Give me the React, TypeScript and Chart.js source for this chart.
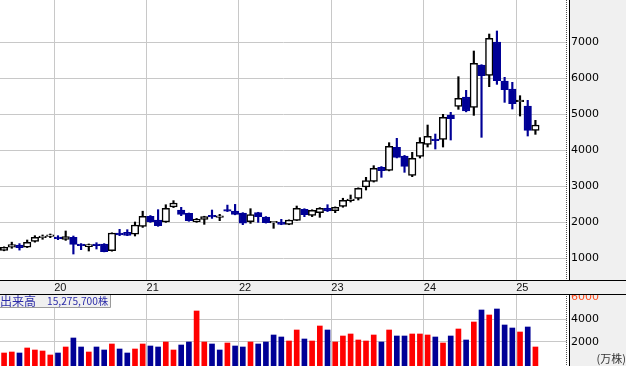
import React, { useEffect, useRef } from "react";
import { Chart, registerables } from "chart.js";

Chart.register(...registerables);

// ---------- data (monthly candles, Jun 2019 - Mar 2025) ----------
const MONTHS = [
  "2019-06", "2019-07", "2019-08", "2019-09", "2019-10", "2019-11", "2019-12",
  "2020-01", "2020-02", "2020-03", "2020-04", "2020-05", "2020-06", "2020-07", "2020-08", "2020-09", "2020-10", "2020-11", "2020-12",
  "2021-01", "2021-02", "2021-03", "2021-04", "2021-05", "2021-06", "2021-07", "2021-08", "2021-09", "2021-10", "2021-11", "2021-12",
  "2022-01", "2022-02", "2022-03", "2022-04", "2022-05", "2022-06", "2022-07", "2022-08", "2022-09", "2022-10", "2022-11", "2022-12",
  "2023-01", "2023-02", "2023-03", "2023-04", "2023-05", "2023-06", "2023-07", "2023-08", "2023-09", "2023-10", "2023-11", "2023-12",
  "2024-01", "2024-02", "2024-03", "2024-04", "2024-05", "2024-06", "2024-07", "2024-08", "2024-09", "2024-10", "2024-11", "2024-12",
  "2025-01", "2025-02", "2025-03",
];

const OPEN = [
  1214, 1300, 1360, 1300, 1463, 1565, 1600, 1583, 1518, 1574,
  1380, 1315, 1347, 1389, 1204, 1694, 1713, 1660, 1880, 2160,
  2056, 2000, 2420, 2333, 2241, 2009, 2074, 2150, 2125, 2310,
  2306, 2245, 2009, 2259, 2139, 1975, 2000, 1935, 2046, 2352,
  2185, 2259, 2380, 2315, 2436, 2595, 2658, 2972, 3130, 3519,
  3435, 4074, 3833, 3296, 3824, 4158, 4305, 4296, 4972, 5213,
  5472, 5185, 6361, 6074, 7000, 5917, 5694, 5340, 5222, 4546,
];
const HIGH = [
  1310, 1440, 1400, 1500, 1620, 1640, 1667, 1620, 1750, 1611,
  1400, 1390, 1425, 1400, 1700, 1796, 1787, 2000, 2300, 2180,
  2343, 2480, 2593, 2408, 2250, 2100, 2160, 2333, 2213, 2470,
  2490, 2260, 2370, 2270, 2150, 1990, 2075, 2060, 2444, 2370,
  2340, 2400, 2481, 2420, 2660, 2750, 2950, 3241, 3565, 3540,
  4204, 4324, 3850, 3935, 4343, 4694, 4444, 4991, 5046, 6037,
  5657, 6750, 6370, 7222, 7306, 6019, 5880, 5509, 5380, 4824,
];
const LOW = [
  1200, 1270, 1220, 1290, 1440, 1520, 1565, 1510, 1490, 1111,
  1231, 1194, 1250, 1170, 1190, 1620, 1620, 1611, 1850, 1990,
  1880, 1990, 2400, 2176, 2020, 1990, 1935, 2100, 2037, 2290,
  2200, 1926, 1963, 1990, 1970, 1825, 1925, 1925, 2040, 2148,
  2150, 2130, 2290, 2259, 2410, 2556, 2611, 2889, 3110, 3241,
  3420, 3780, 3380, 3260, 3778, 4083, 4028, 4083, 4278, 5130,
  5060, 4963, 4352, 5759, 5824, 5324, 5139, 4944, 4389, 4435,
];
const CLOSE = [
  1297, 1370, 1290, 1435, 1574, 1590, 1605, 1537, 1593, 1380,
  1343, 1370, 1345, 1176, 1694, 1639, 1630, 1917, 2160, 2010,
  1898, 2380, 2528, 2213, 2037, 2083, 2148, 2140, 2130, 2300,
  2213, 1970, 2204, 2148, 1981, 1977, 1935, 2056, 2380, 2204,
  2324, 2380, 2306, 2408, 2602, 2630, 2935, 3148, 3491, 3426,
  4102, 3796, 3546, 3768, 4213, 4380, 4259, 4907, 4870, 5435,
  5083, 6407, 6064, 7102, 5926, 5676, 5287, 5345, 4546, 4694,
];
// volume in 万株 (10,000 shares)
const VOLUME = [
  991, 1080, 991, 1438, 1259, 1170, 813, 991, 1527, 2331,
  1527, 1080, 1527, 1259, 1795, 1348, 991, 1348, 1795, 1616,
  1527, 1973, 1259, 1705, 1973, 4742, 1973, 1795, 1259, 1884,
  1616, 1527, 1973, 1795, 1973, 2598, 2420, 2062, 3045, 2241,
  2062, 3402, 3045, 1973, 2509, 2688, 2152, 2062, 2598, 1973,
  3045, 2509, 2509, 2688, 2688, 2598, 2420, 1884, 2509, 3134,
  2152, 3759, 4831, 4385, 4920, 3491, 3223, 2866, 3313, 1527.57,
];

const YEAR_LABELS = ["20", "21", "22", "23", "24", "25"];
const PRICE_TICKS = [1000, 2000, 3000, 4000, 5000, 6000, 7000];
const VOLUME_TICKS = [2000, 4000, 6000];

// ---------- style / layout ----------
const NAVY = "#000096";
const RED = "#ff0000";
const GRID = "#c8c8c8";
const PANEL_BG = "#f0f0f0";
const X_MIN = -0.53;
const X_MAX = 73.1;
const PRICE_MIN = 389;
const PRICE_MAX = 8167;
const VOL_MIN = -170;
const VOL_MAX = 6259;
const PLOT_RIGHT = 567;
const AXIS_W = 626 - PLOT_RIGHT;

const IDX = MONTHS.map((_, i) => i);
const YEAR_TICKS = YEAR_LABELS.map((y) => MONTHS.indexOf("20" + y + "-01") - 0.5);
const isUp = (i: number) => CLOSE[i] >= OPEN[i];
const volUp = (i: number) => (i === 0 ? CLOSE[i] >= OPEN[i] : CLOSE[i] >= CLOSE[i - 1]);

function drawFrame(ctx: CanvasRenderingContext2D, plotBottom: number) {
  ctx.save();
  ctx.strokeStyle = "#505050";
  ctx.lineWidth = 1;
  ctx.setLineDash([1, 1]);
  ctx.beginPath();
  ctx.moveTo(PLOT_RIGHT - 0.5, 0);
  ctx.lineTo(PLOT_RIGHT - 0.5, plotBottom);
  ctx.stroke();
  ctx.setLineDash([]);
  ctx.strokeStyle = "#000";
  ctx.beginPath();
  ctx.moveTo(PLOT_RIGHT + 2.5, 0);
  ctx.lineTo(PLOT_RIGHT + 2.5, plotBottom);
  ctx.stroke();
  ctx.restore();
}

export default function App() {
  const topRef = useRef<HTMLCanvasElement | null>(null);
  const botRef = useRef<HTMLCanvasElement | null>(null);

  useEffect(() => {
    const tickFont = { family: "'DejaVu Sans', sans-serif", size: 11 };

    const topBg = {
      id: "topBg",
      beforeDraw(chart: any) {
        const ctx = chart.ctx;
        const b = chart.chartArea.bottom;
        ctx.save();
        ctx.fillStyle = PANEL_BG;
        ctx.fillRect(PLOT_RIGHT + 2, 0, 626, b);
        ctx.fillRect(0, b, 626, chart.height - b);
        ctx.restore();
      },
      afterDraw(chart: any) {
        const ctx = chart.ctx;
        const b = chart.chartArea.bottom;
        drawFrame(ctx, b);
        ctx.save();
        ctx.strokeStyle = "#000";
        ctx.lineWidth = 1;
        ctx.beginPath();
        ctx.moveTo(0, b + 0.5);
        ctx.lineTo(626, b + 0.5);
        ctx.stroke();
        ctx.restore();
      },
    };

    const top = new Chart(topRef.current as HTMLCanvasElement, {
      type: "bar",
      data: {
        datasets: [
          {
            label: "wick",
            data: IDX.map((i) => ({ x: i, y: [LOW[i], HIGH[i]] })) as any,
            backgroundColor: IDX.map((i) => (isUp(i) ? "#000" : NAVY)),
            borderWidth: 0,
            grouped: false,
            barPercentage: 1,
            categoryPercentage: 1,
            barThickness: 1.5,
            maxBarThickness: 1.5,
            order: 2,
          } as any,
          {
            label: "body",
            data: IDX.map((i) => ({ x: i, y: [OPEN[i], CLOSE[i]] })) as any,
            backgroundColor: IDX.map((i) => (isUp(i) ? "#fff" : NAVY)),
            borderColor: IDX.map((i) => (isUp(i) ? "#000" : NAVY)),
            borderWidth: 1.5,
            borderSkipped: false,
            grouped: false,
            barPercentage: 1,
            categoryPercentage: 1,
            barThickness: 7.5,
            maxBarThickness: 7.5,
            minBarLength: 1.6,
            order: 1,
          } as any,
        ],
      },
      options: {
        animation: false,
        responsive: false,
        maintainAspectRatio: false,
        devicePixelRatio: 1,
        events: [],
        layout: { padding: 0 },
        plugins: { legend: { display: false }, tooltip: { enabled: false }, title: { display: false } },
        scales: {
          x: {
            type: "linear",
            offset: false,
            min: X_MIN,
            max: X_MAX,
            afterBuildTicks: (s: any) => {
              s.ticks = YEAR_TICKS.map((v) => ({ value: v }));
            },
            afterFit: (s: any) => {
              s.height = 14;
              s.paddingLeft = 0;
              s.paddingRight = 0;
            },
            ticks: {
              autoSkip: false,
              maxRotation: 0,
              align: "start",
              padding: 1,
              color: "#111",
              font: { family: "'Liberation Sans', sans-serif", size: 11 },
              callback: (_v: any, index: number) => YEAR_LABELS[index],
            },
            grid: { offset: false, color: GRID, lineWidth: 1, drawTicks: false },
            border: { display: false },
          } as any,
          y: {
            type: "linear",
            position: "right",
            min: PRICE_MIN,
            max: PRICE_MAX,
            afterBuildTicks: (s: any) => {
              s.ticks = PRICE_TICKS.map((v) => ({ value: v }));
            },
            afterFit: (s: any) => {
              s.width = AXIS_W;
              s.paddingTop = 0;
              s.paddingBottom = 0;
            },
            ticks: {
              padding: 4,
              color: "#000",
              font: tickFont,
              callback: (v: any) => String(v),
            },
            grid: { color: GRID, lineWidth: 1, drawTicks: false },
            border: { display: false },
          } as any,
        },
      },
      plugins: [topBg],
    });

    const lastVol = Math.round(VOLUME[VOLUME.length - 1] * 10000).toLocaleString("en-US");

    const botBg = {
      id: "botBg",
      beforeDraw(chart: any) {
        const ctx = chart.ctx;
        ctx.save();
        ctx.fillStyle = PANEL_BG;
        ctx.fillRect(PLOT_RIGHT + 2, 0, 626, chart.height);
        ctx.restore();
      },
      afterDraw(chart: any) {
        const ctx = chart.ctx;
        drawFrame(ctx, chart.height);
        ctx.save();
        ctx.strokeStyle = "#000";
        ctx.lineWidth = 1;
        ctx.beginPath();
        ctx.moveTo(0, 0.5);
        ctx.lineTo(626, 0.5);
        ctx.stroke();
        // legend box
        ctx.fillStyle = PANEL_BG;
        ctx.fillRect(0, 1, 110, 12);
        ctx.strokeStyle = "#9a9a9a";
        ctx.beginPath();
        ctx.moveTo(110.5, 1);
        ctx.lineTo(110.5, 13.5);
        ctx.lineTo(0, 13.5);
        ctx.stroke();
        ctx.fillStyle = "#2c2ca8";
        ctx.textBaseline = "middle";
        ctx.font = "12px 'Noto Sans CJK JP', sans-serif";
        ctx.fillText("出来高", 0, 7);
        ctx.font = "10.2px 'Noto Sans CJK JP', sans-serif";
        ctx.fillText(lastVol + "株", 47, 7);
        // unit label
        ctx.fillStyle = "#333";
        ctx.font = "11px 'Noto Sans CJK JP', sans-serif";
        ctx.textAlign = "right";
        ctx.fillText("(万株)", 626, 65);
        ctx.restore();
      },
    };

    const bot = new Chart(botRef.current as HTMLCanvasElement, {
      type: "bar",
      data: {
        datasets: [
          {
            label: "出来高",
            data: IDX.map((i) => ({ x: i, y: VOLUME[i] })) as any,
            backgroundColor: IDX.map((i) => (volUp(i) ? RED : NAVY)),
            borderWidth: 0,
            base: VOL_MIN,
            barThickness: 5,
            maxBarThickness: 5,
          } as any,
        ],
      },
      options: {
        animation: false,
        responsive: false,
        maintainAspectRatio: false,
        devicePixelRatio: 1,
        events: [],
        layout: { padding: 0 },
        plugins: { legend: { display: false }, tooltip: { enabled: false }, title: { display: false } },
        scales: {
          x: {
            type: "linear",
            offset: false,
            min: X_MIN,
            max: X_MAX,
            afterBuildTicks: (s: any) => {
              s.ticks = YEAR_TICKS.map((v) => ({ value: v }));
            },
            afterFit: (s: any) => {
              s.height = 0;
              s.paddingLeft = 0;
              s.paddingRight = 0;
            },
            ticks: { display: false },
            grid: { offset: false, color: GRID, lineWidth: 1, drawTicks: false },
            border: { display: false },
          } as any,
          y: {
            type: "linear",
            position: "right",
            min: VOL_MIN,
            max: VOL_MAX,
            afterBuildTicks: (s: any) => {
              s.ticks = VOLUME_TICKS.map((v) => ({ value: v }));
            },
            afterFit: (s: any) => {
              s.width = AXIS_W;
              s.paddingTop = 0;
              s.paddingBottom = 0;
            },
            ticks: {
              padding: 4,
              color: (c: any) => (c.tick && c.tick.value === 6000 ? "#ff4a1c" : "#000"),
              font: tickFont,
              callback: (v: any) => String(v),
            },
            grid: {
              color: (c: any) => (c.tick && c.tick.value === 6000 ? "rgba(0,0,0,0)" : GRID),
              lineWidth: 1,
              drawTicks: false,
            },
            border: { display: false },
          } as any,
        },
      },
      plugins: [botBg],
    });

    return () => {
      top.destroy();
      bot.destroy();
    };
  }, []);

  return (
    <div style={{ position: "fixed", left: 0, top: 0, width: 626, height: 366, background: "#fff", overflow: "hidden" }}>
      <canvas ref={topRef} width={626} height={294} style={{ position: "absolute", left: 0, top: 0, width: 626, height: 294 }} />
      <canvas ref={botRef} width={626} height={72} style={{ position: "absolute", left: 0, top: 294, width: 626, height: 72 }} />
    </div>
  );
}
